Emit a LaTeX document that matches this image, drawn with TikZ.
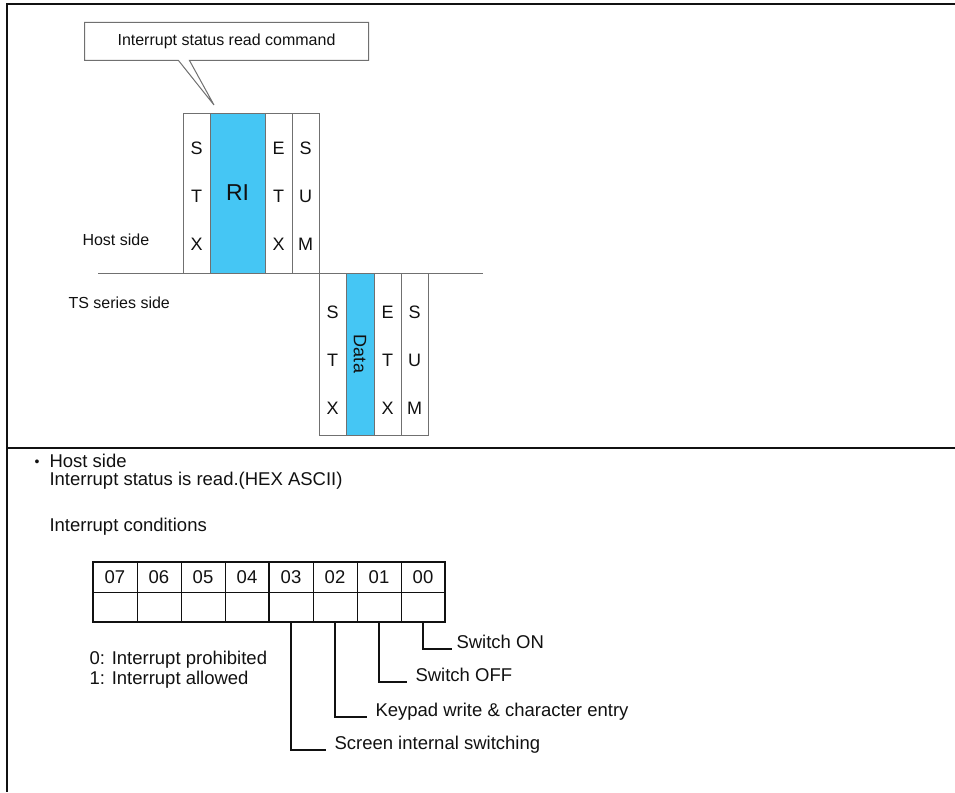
\documentclass[tikz,border=0pt]{standalone}
\usepackage{fontspec}
\setmainfont{Liberation Sans}
\usetikzlibrary{positioning}
\definecolor{fieldblue}{HTML}{45C6F4}
\definecolor{edge}{HTML}{707070}
\definecolor{ink}{HTML}{111111}
% letters of a one-byte field, stacked and lowered a little
\newcommand{\colstack}[2][0pt]{\raisebox{-#1}[\height][\depth]{\begin{tabular}{@{}c@{}}#2\end{tabular}}}

\begin{document}
\begin{tikzpicture}[
  x=1pt, y=-1pt, line width=1pt, ink,
  font=\fontsize{16}{19}\selectfont,
  col/.style={draw=edge, fill=white, minimum width=27pt, minimum height=160pt, inner sep=0pt,
              outer sep=0pt, font=\fontsize{18}{48}\selectfont},
  field/.style={fill=fieldblue},
  tscol/.style={col, minimum height=162pt},
  callout/.style={draw=edge, line join=miter},
  rule/.style={draw=ink, line width=1.3pt},
  base/.style={draw=edge},
  txt/.style={anchor=west, inner sep=0pt},
  big/.style={font=\fontsize{18.5}{21}\selectfont},
  cell/.style={draw=ink, line width=0.8pt, minimum width=44pt, minimum height=30pt, inner sep=0pt,
               outer sep=0pt, big},
  frame/.style={draw=ink, line width=2pt},
  lead/.style={draw=ink, line width=1.3pt},
  leadlab/.style={big, anchor=south west, inner xsep=8pt, inner ysep=0pt, text depth=0pt}]
\useasboundingbox (0,0) rectangle (955,792);
% ---------- page frame
\draw[rule] (955,4) -- (7,4) -- (7,792);
\draw[rule] (7,448) -- (955,448);
% ---------- callout
\node[minimum width=283pt, minimum height=37pt, inner sep=0pt] (cmd) at (226.5,41.5) {Interrupt status read command};
\coordinate (tip) at (214,105);
\draw[callout] ([xshift=94pt]cmd.south west) -- (cmd.south west) -- (cmd.north west) -- (cmd.north east)
  -- (cmd.south east) -- ([xshift=105pt]cmd.south west) -- (tip) -- cycle;
% ---------- host side frame
\node[col] (hstx) at (196.5,193) {\colstack{S\\T\\X}};
\node[col, field, minimum width=55pt, right=0pt of hstx, font=\fontsize{23}{28}\selectfont] (hri) {RI};
\node[col, right=0pt of hri] (hetx) {\colstack{E\\T\\X}};
\node[col, right=0pt of hetx] (hsum) {\colstack{S\\U\\M}};
% ---------- TS series side frame
\node[tscol, anchor=north west] (tstx) at (hsum.south east) {\colstack[3pt]{S\\T\\X}};
\node[tscol, field, minimum width=28pt, right=0pt of tstx] (tdata) {\rotatebox{-90}{Data}};
\node[tscol, right=0pt of tdata] (tetx) {\colstack[3pt]{E\\T\\X}};
\node[tscol, right=0pt of tetx] (tsum) {\colstack[3pt]{S\\U\\M}};
\coordinate (lineL) at (98,273);
\coordinate (lineR) at (483,273);
\draw[base] (lineL) -- (lineR);
\node[txt] (hostlab) at (82,240) {Host side};
\node[txt] (tslab) at (68,303) {TS series side};
% ---------- description
\node[inner sep=0pt, font=\fontsize{14}{16}\selectfont] (bullet) at (37,463) {•};
\node[txt, big] (hostb) at (49,461) {Host side};
\node[txt, big] (readhex) at (49,481) {Interrupt status is read.(HEX ASCII)};
\node[txt, big] (cond) at (49,527) {Interrupt conditions};
% ---------- bit table
\foreach \b [count=\i from 0] in {07,06,05,04,03,02,01,00} {
  \node[cell] (h\b) at (115+44*\i,577) {\b};
  \node[cell] (v\b) at (115+44*\i,607) {};
}
\draw[frame] (h07.north west) rectangle (v00.south east);
\draw[frame] (h03.north west) -- (v03.south west);
\node[txt, align=left, font=\fontsize{18.5}{20}\selectfont] (states) at (89,670) {0: Interrupt prohibited\\1: Interrupt allowed};
% ---------- bit leaders
\node[leadlab, inner xsep=4pt] (son) at (452,649) {Switch ON};
\node[leadlab] (soff) at (407,682) {Switch OFF};
\node[leadlab] (skey) at (367,717) {Keypad write \& character entry};
\node[leadlab] (sscr) at (326,750) {Screen internal switching};
\draw[lead] (v00.south) |- (son.south west);
\draw[lead] (v01.south) |- (soff.south west);
\draw[lead] (v02.south) |- (skey.south west);
\draw[lead] (v03.south) |- (sscr.south west);
\end{tikzpicture}
\end{document}
